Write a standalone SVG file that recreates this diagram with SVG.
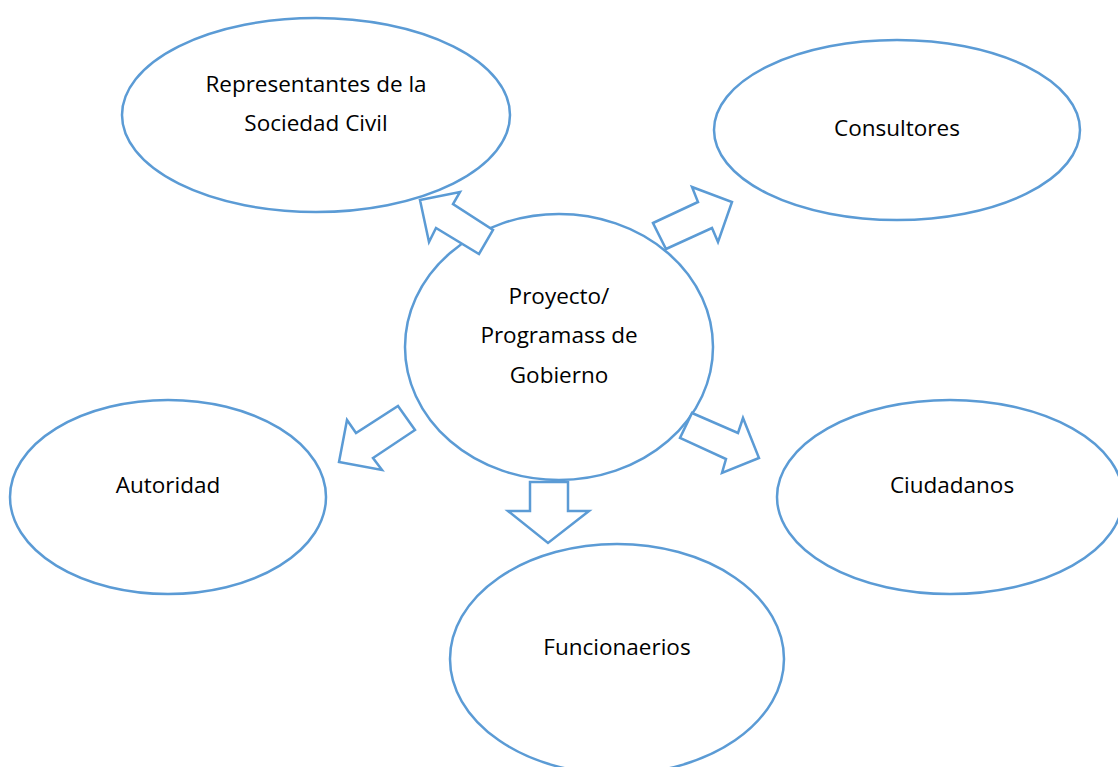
<svg xmlns="http://www.w3.org/2000/svg" width="1118" height="767" viewBox="0 0 1118 767">
<style>
.n{fill:#fff;stroke:#5B9BD5;stroke-width:2.5}
.a{fill:#fff;stroke:#5B9BD5;stroke-width:2.5;stroke-linejoin:miter}
text{font-family:"Open Sans","Liberation Sans",sans-serif;font-size:22.5px;fill:#000;text-anchor:middle}
</style>
<rect width="1118" height="767" fill="#fff"/>
<g id="n-sociedad"><ellipse class="n" cx="316" cy="115" rx="194" ry="97"/><text x="316" y="92">Representantes de la</text><text x="316" y="131">Sociedad Civil</text></g>
<g id="n-consultores"><ellipse class="n" cx="897" cy="130" rx="183" ry="90"/><text x="897" y="136">Consultores</text></g>
<g id="n-autoridad"><ellipse class="n" cx="168" cy="497" rx="158" ry="97"/><text x="168" y="493">Autoridad</text></g>
<g id="n-ciudadanos"><ellipse class="n" cx="950" cy="497" rx="173" ry="97"/><text x="952" y="493">Ciudadanos</text></g>
<g id="n-funcionarios"><ellipse class="n" cx="617" cy="659" rx="167" ry="115"/><text x="617" y="655">Funcionaerios</text></g>
<g id="n-proyecto"><ellipse class="n" cx="559" cy="347" rx="154" ry="133"/><text x="559" y="304">Proyecto/</text><text x="559" y="343">Programass de</text><text x="559" y="383">Gobierno</text></g>
<g id="connectors">
<polygon class="a" points="420,200 460,192 453,204 493,230 479,254 436,228 429,242"/>
<polygon class="a" points="653,223 698,202 692,187 732,202 718,242 712,228 666,249"/>
<polygon class="a" points="398,406 415,430 373,458 382,470 339,462 347,420 356,433"/>
<polygon class="a" points="692,413 738,433 743,418 759,458 722,473 726,459 680,438"/>
<polygon class="a" points="530,482 568,482 568,511 589,511 548,543 508,511 530,511"/>
</g>
</svg>
